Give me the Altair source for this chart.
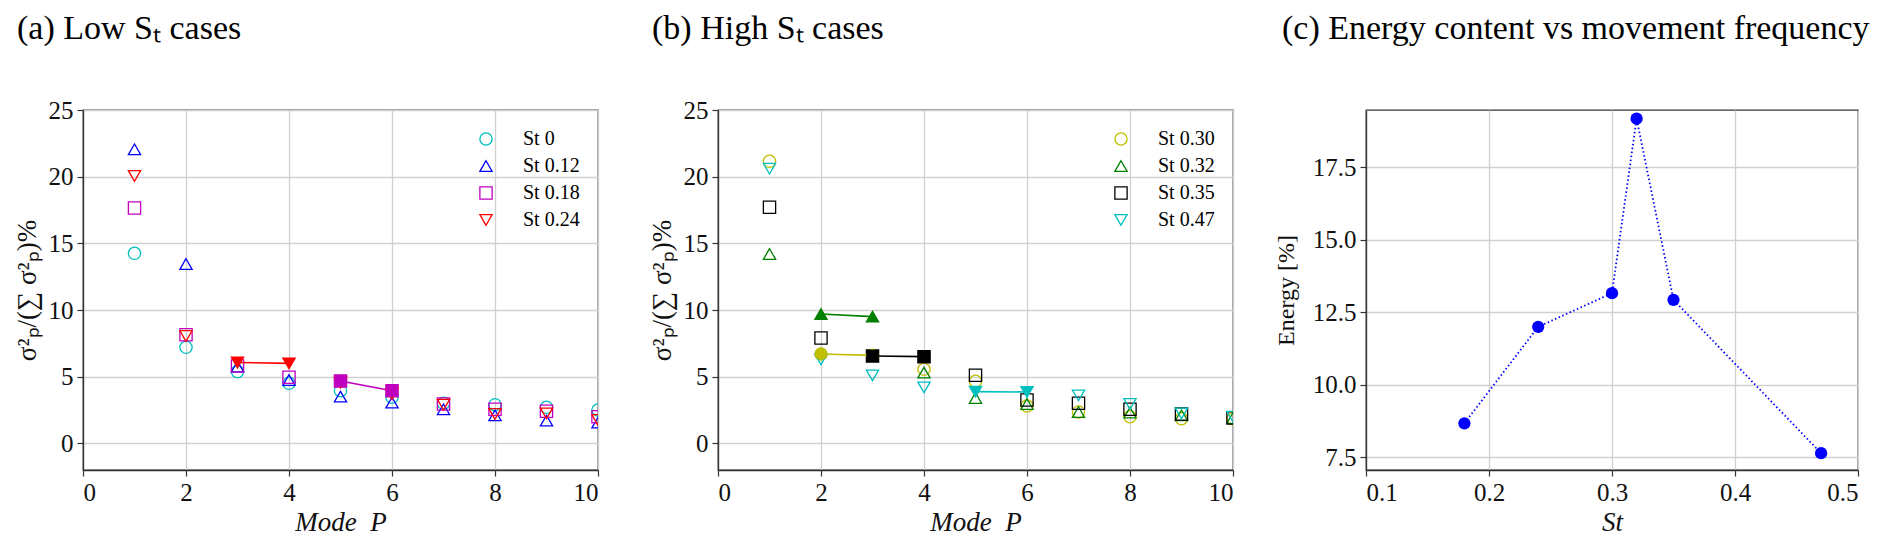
import altair as alt
import pandas as pd

modes = [1, 2, 3, 4, 5, 6, 7, 8, 9, 10]

# Panel (a): low St cases
a_series = ["St 0", "St 0.12", "St 0.18", "St 0.24"]
a_st0 = [14.25, 7.2, 5.38, 4.5, 3.95, 3.45, 3.0, 2.9, 2.7, 2.5]
a_st012 = [22.05, 13.45, 5.76, 4.75, 3.5, 3.05, 2.55, 2.1, 1.7, 1.55]
a_st018 = [17.65, 8.15, 5.8, 4.95, 4.67, 3.95, 2.95, 2.55, 2.4, 2.0]
a_st024 = [20.05, 8.05, 6.06, 6.0, 4.55, 3.7, 2.9, 2.2, 2.25, 1.75]
a_colors = ["#00BFBF", "#0000FF", "#BF00BF", "#FF0000"]
a_shapes = ["circle", "triangle-up", "square", "triangle-down"]
a_highlight = {"St 0.24": [3, 4], "St 0.18": [5, 6]}

# Panel (b): high St cases
b_series = ["St 0.30", "St 0.32", "St 0.35", "St 0.47"]
b_st030 = [21.15, 6.7, 6.6, 5.55, 4.65, 2.8, 2.35, 2.0, 1.85, 1.85]
b_st032 = [14.2, 9.7, 9.5, 5.3, 3.4, 2.95, 2.35, 2.3, 2.1, 1.9]
b_st035 = [17.7, 7.9, 6.55, 6.5, 5.1, 3.25, 3.0, 2.55, 2.2, 1.9]
b_st047 = [20.6, 6.3, 5.1, 4.2, 3.88, 3.85, 3.6, 2.95, 2.25, 2.0]
b_colors = ["#BFBF00", "#008000", "#000000", "#00BFBF"]
b_shapes = ["circle", "triangle-up", "square", "triangle-down"]
b_highlight = {"St 0.30": [2, 3], "St 0.32": [2, 3], "St 0.35": [3, 4], "St 0.47": [5, 6]}

# Panel (c): energy vs St
c_st = [0.18, 0.24, 0.30, 0.32, 0.35, 0.47]
c_energy = [8.67, 12.0, 13.16, 19.18, 12.93, 7.64]

SERIF = "Liberation Serif"
YLAB = "σ²ₚ/(∑ σ²ₚ)%"
XLAB = "Mode\u2002P"
TITLE_SIZE = 34


def build(names, value_lists, highlights):
    rows = []
    for name, vals in zip(names, value_lists):
        hl = highlights.get(name, [])
        for m, v in zip(modes, vals):
            rows.append({"mode": m, "value": v, "series": name, "hl": m in hl})
    return pd.DataFrame(rows)


def mode_panel(df, names, colors, shapes, highlights, title, dx):
    x = alt.X("mode:Q", scale=alt.Scale(domain=[0, 10], nice=False),
              axis=alt.Axis(values=[0, 2, 4, 6, 8, 10], title=XLAB,
                            titleFontStyle="italic", titleFontSize=27, titlePadding=4))
    y = alt.Y("value:Q", scale=alt.Scale(domain=[-2, 25], nice=False),
              axis=alt.Axis(values=[0, 5, 10, 15, 20, 25], title=YLAB,
                            titleFontSize=27, titlePadding=7))
    leg = alt.Legend(title=None, orient="none", legendX=393, legendY=19,
                     symbolSize=150, symbolStrokeWidth=1.3, labelFont=SERIF,
                     labelFontSize=20, labelOffset=27, rowPadding=7, padding=0)
    cscale = alt.Scale(domain=names, range=colors)
    sscale = alt.Scale(domain=names, range=shapes)
    base = alt.Chart(df)
    layers = [base.mark_point(filled=False, size=150, strokeWidth=1.3, clip=True, opacity=1).encode(
        x=x, y=y,
        color=alt.Color("series:N", scale=cscale, legend=leg),
        shape=alt.Shape("series:N", scale=sscale, legend=leg),
    )]
    for name, col, shp in zip(names, colors, shapes):
        if name not in highlights:
            continue
        sub = df[(df["series"] == name) & (df["hl"])]
        sb = alt.Chart(sub)
        layers.append(sb.mark_line(color=col, strokeWidth=1.6, clip=True).encode(x=x, y=y))
        layers.append(sb.mark_point(filled=True, color=col, shape=shp, size=150,
                                    clip=True, opacity=1).encode(x=x, y=y))
    return alt.layer(*layers).properties(
        width=515, height=360,
        title=alt.TitleParams(title, anchor="start", frame="group", dx=dx, offset=25,
                              baseline="alphabetic", font=SERIF, fontSize=TITLE_SIZE,
                              fontWeight="normal", color="#000"),
    )


df_a = build(a_series, [a_st0, a_st012, a_st018, a_st024], a_highlight)
df_b = build(b_series, [b_st030, b_st032, b_st035, b_st047], b_highlight)
df_c = pd.DataFrame({"st": c_st, "energy": c_energy})

pa = mode_panel(df_a, a_series, a_colors, a_shapes, a_highlight, "(a) Low Sₜ cases", -66)
pb = mode_panel(df_b, b_series, b_colors, b_shapes, b_highlight, "(b) High Sₜ cases", -66)

cx = alt.X("st:Q", scale=alt.Scale(domain=[0.1, 0.5], nice=False),
           axis=alt.Axis(values=[0.1, 0.2, 0.3, 0.4, 0.5], format=".1f", title="St",
                         titleFontStyle="italic", titleFontSize=27, titlePadding=4))
cy = alt.Y("energy:Q", scale=alt.Scale(domain=[7.06, 19.48], nice=False, zero=False),
           axis=alt.Axis(values=[7.5, 10, 12.5, 15, 17.5], format=".1f", title="Energy [%]",
                         titlePadding=14))
cbase = alt.Chart(df_c)
pc = alt.layer(
    cbase.mark_line(color="#0000FF", strokeDash=[1.5, 2.5], strokeWidth=1.8).encode(x=cx, y=cy),
    cbase.mark_circle(color="#0000FF", size=150, opacity=1).encode(x=cx, y=cy),
).properties(
    width=492, height=360,
    title=alt.TitleParams("(c) Energy content vs movement frequency", anchor="start", frame="group",
                          dx=-84, offset=37, baseline="alphabetic", font=SERIF, fontSize=TITLE_SIZE,
                          fontWeight="normal", color="#000"),
)

inner = alt.hconcat(pa, pb, spacing=47).resolve_scale(color="independent", shape="independent")

chart = alt.concat(inner, pc, columns=2, align="none", spacing=38).properties(
    padding={"left": 4, "top": 3, "right": 0, "bottom": 0}
).configure_view(
    stroke="#333", strokeWidth=1.3
).configure_axis(
    labelFont=SERIF, labelFontSize=25, labelColor="#111", labelPadding=4,
    titleFont=SERIF, titleFontSize=24, titleFontWeight="normal", titleColor="#111",
    gridColor="#d0d0d0", gridWidth=1.3, domainColor="#333", domainWidth=1.3,
    tickColor="#333", tickSize=6, tickWidth=1.2,
)

chart.save("out.html", embed_options={"renderer": "svg", "actions": False})
